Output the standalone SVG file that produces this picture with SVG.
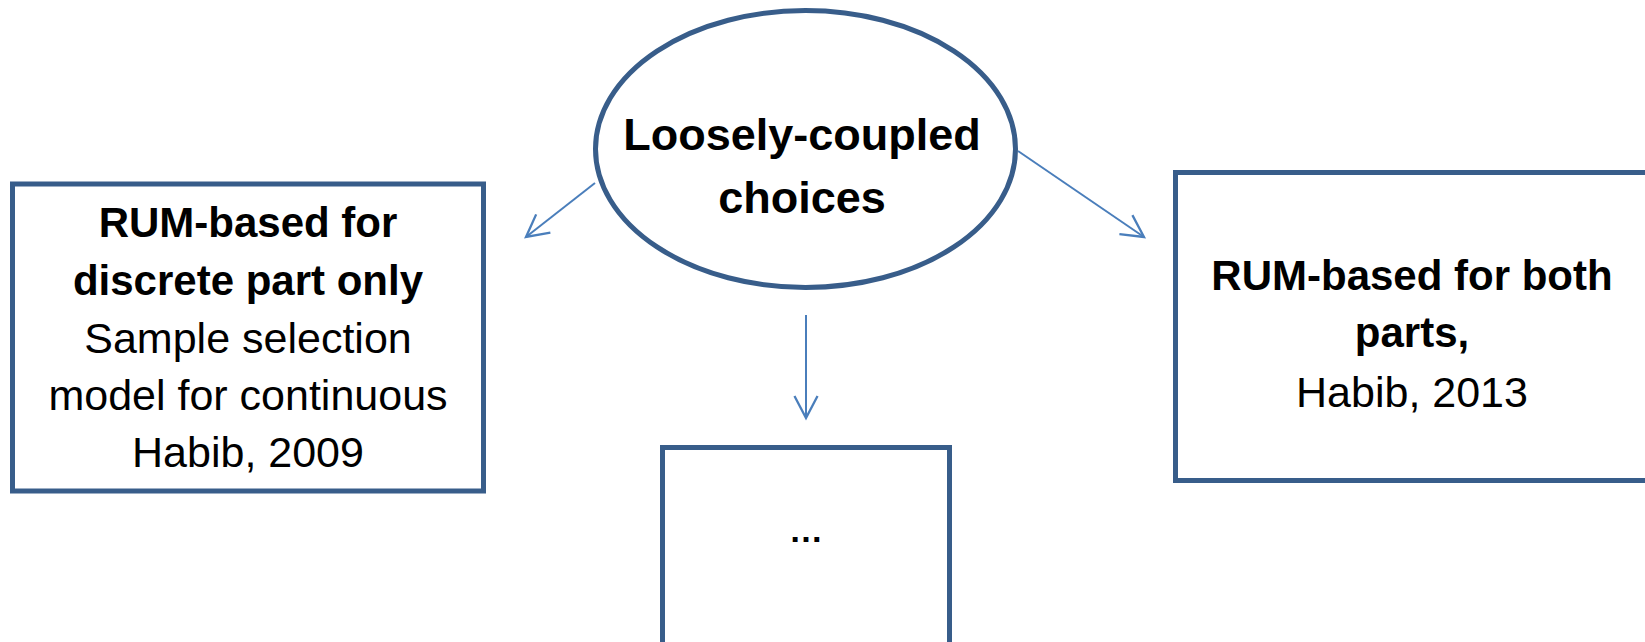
<svg xmlns="http://www.w3.org/2000/svg" width="1645" height="642" viewBox="0 0 1645 642">
  <style>
    .box { fill: #ffffff; stroke: #385d8a; stroke-width: 5; }
    .conn { fill: none; stroke: #4a7ebb; stroke-width: 2; }
    .t { font-family: "Liberation Sans", Arial, sans-serif; fill: #000000; text-anchor: middle; }
    .b { font-weight: bold; font-size: 42px; }
    .r { font-size: 43px; }
    .e { font-weight: bold; font-size: 45px; }
  </style>
  <defs>
    <marker id="arrow" markerUnits="userSpaceOnUse" markerWidth="30" markerHeight="30" viewBox="-22 -13 26 26" refX="0" refY="0" orient="auto">
      <path d="M-19,-10 L0,0 L-19,10" fill="none" stroke="#4a7ebb" stroke-width="2"/>
    </marker>
  </defs>
  <rect width="1645" height="642" fill="#ffffff"/>

  <g id="connectors">
    <line class="conn" x1="595" y1="183" x2="526" y2="237" marker-end="url(#arrow)"/>
    <line class="conn" x1="1018" y1="151" x2="1144" y2="237" marker-end="url(#arrow)"/>
    <line class="conn" x1="806" y1="315" x2="806" y2="418" marker-end="url(#arrow)"/>
  </g>

  <g id="node-center">
    <ellipse class="box" cx="805.5" cy="149" rx="210" ry="138.5"/>
    <text class="t e" x="802" y="150">Loosely-coupled</text>
    <text class="t e" x="802" y="213">choices</text>
  </g>

  <g id="node-left">
    <rect class="box" x="12.5" y="184" width="471" height="307"/>
    <text class="t b" x="248" y="237">RUM-based for</text>
    <text class="t b" x="248" y="295">discrete part only</text>
    <text class="t r" x="248" y="353">Sample selection</text>
    <text class="t r" x="248" y="410">model for continuous</text>
    <text class="t r" x="248" y="467">Habib, 2009</text>
  </g>

  <g id="node-right">
    <rect class="box" x="1175.5" y="172.5" width="473" height="308"/>
    <text class="t b" x="1412" y="290">RUM-based for both</text>
    <text class="t b" x="1412" y="347">parts,</text>
    <text class="t r" x="1412" y="407">Habib, 2013</text>
  </g>

  <g id="node-bottom">
    <rect class="box" x="662.5" y="447.5" width="287" height="210"/>
    <text class="t" x="806" y="542" style="font-weight:bold;font-size:34px">…</text>
  </g>
</svg>
